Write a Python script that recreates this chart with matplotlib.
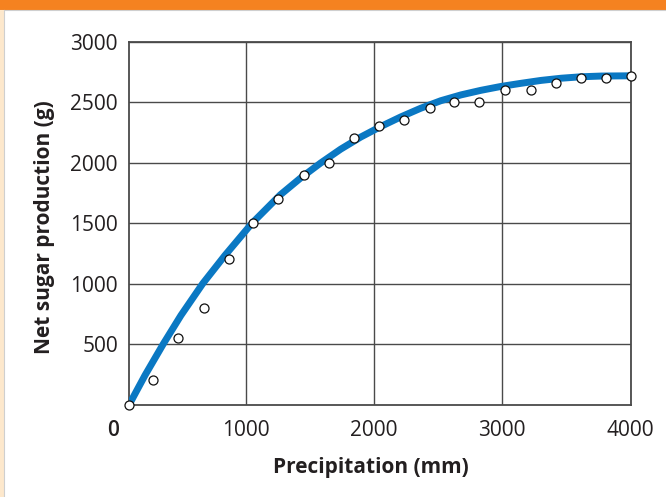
import matplotlib
matplotlib.use("Agg")
import matplotlib.pyplot as plt
from matplotlib.patches import Rectangle
from matplotlib.lines import Line2D
import matplotlib.transforms as mtransforms

# ---- data ----
obs_precip = [92, 275, 471, 671, 872, 1054, 1253, 1453, 1648, 1844, 2039,
              2235, 2438, 2623, 2821, 3022, 3225, 3421, 3611, 3806, 4000]
obs_sugar = [0, 200, 550, 800, 1200, 1500, 1700, 1900, 2000, 2200, 2300,
             2350, 2450, 2500, 2500, 2600, 2600, 2660, 2700, 2700, 2715]

curve_precip = [92, 215, 357, 495, 665, 838, 1050, 1270, 1427, 1583, 1740,
                1896, 2052, 2209, 2365, 2521, 2678, 2834, 2990, 3147, 3303,
                3460, 3616, 3773, 4000]
curve_sugar = [0, 242, 500, 737, 1000, 1233, 1500, 1734, 1872, 1996, 2111,
               2211, 2298, 2378, 2450, 2512, 2560, 2598, 2630, 2656, 2680,
               2698, 2710, 2716, 2718]

x_ticks = [1000, 2000, 3000, 4000]
x_tick_labels = ["1000", "2000", "3000", "4000"]
y_ticks = [500, 1000, 1500, 2000, 2500, 3000]
y_tick_labels = ["500", "1000", "1500", "2000", "2500", "3000"]

plt.rcParams['font.family'] = ['Open Sans', 'DejaVu Sans']

W, H = 666, 497
fig = plt.figure(figsize=(W / 100, H / 100), dpi=100)
fig.patch.set_facecolor('white')

# decorations: orange top band, cream left strip
fig.add_artist(Rectangle((0, 1 - 9.5 / H), 1, 9.5 / H, transform=fig.transFigure,
                         facecolor='#f58220', edgecolor='none', zorder=0))
fig.add_artist(Line2D([0, 1], [1 - 10.2 / H] * 2, transform=fig.transFigure,
                      color='#cfcfcf', lw=0.8, zorder=0))
fig.add_artist(Rectangle((0, 0), 3.8 / W, 1 - 9.5 / H, transform=fig.transFigure,
                         facecolor='#fde8cc', edgecolor='none', zorder=0))
fig.add_artist(Line2D([4.2 / W] * 2, [0, 1 - 10 / H], transform=fig.transFigure,
                      color='#cfcfcf', lw=0.8, zorder=0))

left, right = 129 / W, 630.5 / W
bottom, top = 1 - 404.5 / H, 1 - 41.7 / H
ax = fig.add_axes([left, bottom, right - left, top - bottom])

ax.set_xlim(90, 4000)
ax.set_ylim(0, 3000)

ax.set_xticks(x_ticks)
ax.set_xticklabels(x_tick_labels)
ax.set_yticks(y_ticks)
ax.set_yticklabels(y_tick_labels)

ax.tick_params(axis='both', length=0, labelsize=15, colors='#231f20')
ax.tick_params(axis='x', pad=11)
ax.tick_params(axis='y', pad=8)

ax.grid(True, color='#4a4a4a', lw=1.0)
ax.set_axisbelow(True)
for s in ax.spines.values():
    s.set_color('#4a4a4a')
    s.set_linewidth(1.3)

# "0" label at the x origin (outside the axis frame)
trans = mtransforms.blended_transform_factory(ax.transData, ax.transAxes)
t0 = ax.text(0, 0, "0", ha='center', va='top', fontsize=15, fontweight='semibold',
             color='#231f20', clip_on=False)
t0.set_transform(trans + mtransforms.ScaledTranslation(-4 / 100, -11 / 72, fig.dpi_scale_trans))

ax.plot(curve_precip, curve_sugar, color='#0a78c3', lw=5.0,
        solid_capstyle='butt', solid_joinstyle='round', zorder=3)
ax.plot(obs_precip, obs_sugar, linestyle='none', marker='o', markersize=6.5,
        markerfacecolor='white', markeredgecolor='#111111', markeredgewidth=0.9,
        zorder=4, clip_on=False)

ax.set_xlabel("Precipitation (mm)", fontsize=15, fontweight='bold',
              color='#231f20')
ax.set_ylabel("Net sugar production (g)", fontsize=15, fontweight='bold',
              color='#231f20')
ax.xaxis.set_label_coords((370.8 / W - left) / (right - left), -(468 - 404.5) / 362.8)
ax.xaxis.label.set_va('center')
ax.yaxis.set_label_coords(-(129 - 45) / 501.5, (404.5 - 227) / 362.8)
ax.yaxis.label.set_va('center')

fig.savefig("out.png", dpi=100, facecolor=fig.get_facecolor())
